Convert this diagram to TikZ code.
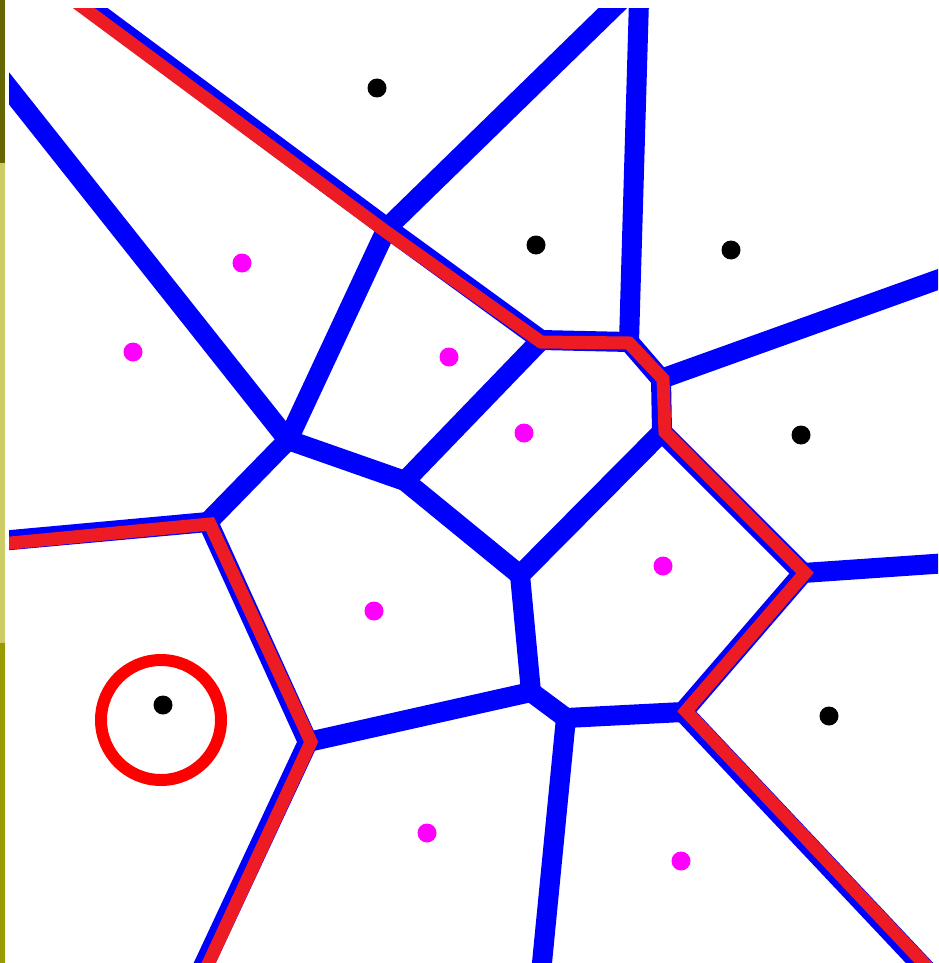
\documentclass[tikz,border=0pt]{standalone}
\definecolor{vblue}{HTML}{0000FF}
\definecolor{vred}{HTML}{ED1C24}
\definecolor{cred}{HTML}{FF0000}
\definecolor{vmag}{HTML}{FF00FF}
\definecolor{stripA}{HTML}{666600}
\definecolor{stripB}{HTML}{CCCC66}
\definecolor{stripC}{HTML}{999900}
\begin{document}
\begin{tikzpicture}[x=1pt,y=-1pt,
  blueline/.style={draw=vblue,line width=20pt,line cap=round},
  redline/.style={draw=vred,line width=13pt,line join=miter},
  magdot/.style={circle,fill=vmag,inner sep=0pt,minimum size=19pt},
  blackdot/.style={circle,fill=black,inner sep=0pt,minimum size=19pt},
  ring/.style={circle,draw=cred,line width=12pt,inner sep=0pt,minimum size=120pt}]
\useasboundingbox (0,0) rectangle (938,963);
\fill[white] (0,0) rectangle (938,963);
% left strip
\fill[stripA] (0,0) rectangle (5,163);
\fill[stripB] (0,163) rectangle (5,643);
\fill[stripC] (0,643) rectangle (5,963);
% vertices
\coordinate (A) at (387,228);
\coordinate (B) at (288,440);
\coordinate (C) at (541,340);
\coordinate (D) at (629,342);
\coordinate (E) at (661,379);
\coordinate (F) at (662,432);
\coordinate (G) at (803,573);
\coordinate (H) at (683,712);
\coordinate (I) at (520,575);
\coordinate (J) at (405,481);
\coordinate (K) at (531,692);
\coordinate (L) at (566,718);
\coordinate (M) at (308,742);
\coordinate (N) at (208,522);
% free ends
\coordinate (T1) at (80,0);
\coordinate (T2) at (621,0);
\coordinate (T3) at (639,0);
\coordinate (L1) at (0,77);
\coordinate (Nl) at (0,541);
\coordinate (Er) at (948,276);
\coordinate (Gr) at (948,563);
\coordinate (Hb) at (929,973);
\coordinate (Lb) at (541,973);
\coordinate (Mb) at (200,973);
% red path points
\coordinate (rT1) at (77,3);
\coordinate (rA) at (385,231);
\coordinate (rC) at (541,342);
\coordinate (rD) at (629,343);
\coordinate (rE) at (663,379);
\coordinate (rF) at (665,432);
\coordinate (rG) at (805,573);
\coordinate (rH) at (686,711);
\coordinate (rHb) at (932,972);
\coordinate (rNl) at (0,544);
\coordinate (rN) at (210,524);
\coordinate (rM) at (311,742);
\coordinate (rMb) at (204,973);
\begin{scope}
\clip (9,9) rectangle (938,963);
\draw[blueline] (T1) -- (A);
\draw[blueline] (A) -- (T2);
\draw[blueline] (T3) -- (D);
\draw[blueline] (A) -- (B);
\draw[blueline] (A) -- (C);
\draw[blueline] (C) -- (D);
\draw[blueline] (D) -- (E);
\draw[blueline] (E) -- (F);
\draw[blueline] (E) -- (Er);
\draw[blueline] (F) -- (G);
\draw[blueline] (G) -- (Gr);
\draw[blueline] (G) -- (H);
\draw[blueline] (H) -- (Hb);
\draw[blueline] (F) -- (I);
\draw[blueline] (C) -- (J);
\draw[blueline] (J) -- (B);
\draw[blueline] (J) -- (I);
\draw[blueline] (I) -- (K);
\draw[blueline] (K) -- (L);
\draw[blueline] (L) -- (H);
\draw[blueline] (L) -- (Lb);
\draw[blueline] (K) -- (M);
\draw[blueline] (M) -- (Mb);
\draw[blueline] (M) -- (N);
\draw[blueline] (N) -- (B);
\draw[blueline] (N) -- (Nl);
\draw[blueline] (B) -- (L1);
\draw[redline] (rT1) -- (rA) -- (rC) -- (rD) -- (rE) -- (rF) -- (rG) -- (rH) -- (rHb);
\draw[redline] (rNl) -- (rN) -- (rM) -- (rMb);
\end{scope}
% sites
\node[blackdot] (b1) at (377,88) {};
\node[blackdot] (b2) at (536,245) {};
\node[blackdot] (b3) at (731,250) {};
\node[blackdot] (b4) at (801,435) {};
\node[blackdot] (b5) at (829,716) {};
\node[blackdot] (b6) at (163,705) {};
\node[magdot] (m1) at (242,263) {};
\node[magdot] (m2) at (133,352) {};
\node[magdot] (m3) at (449,357) {};
\node[magdot] (m4) at (524,433) {};
\node[magdot] (m5) at (374,611) {};
\node[magdot] (m6) at (663,566) {};
\node[magdot] (m7) at (427,833) {};
\node[magdot] (m8) at (681,861) {};
\node[ring] (ring) at (161,720) {};
\end{tikzpicture}
\end{document}
